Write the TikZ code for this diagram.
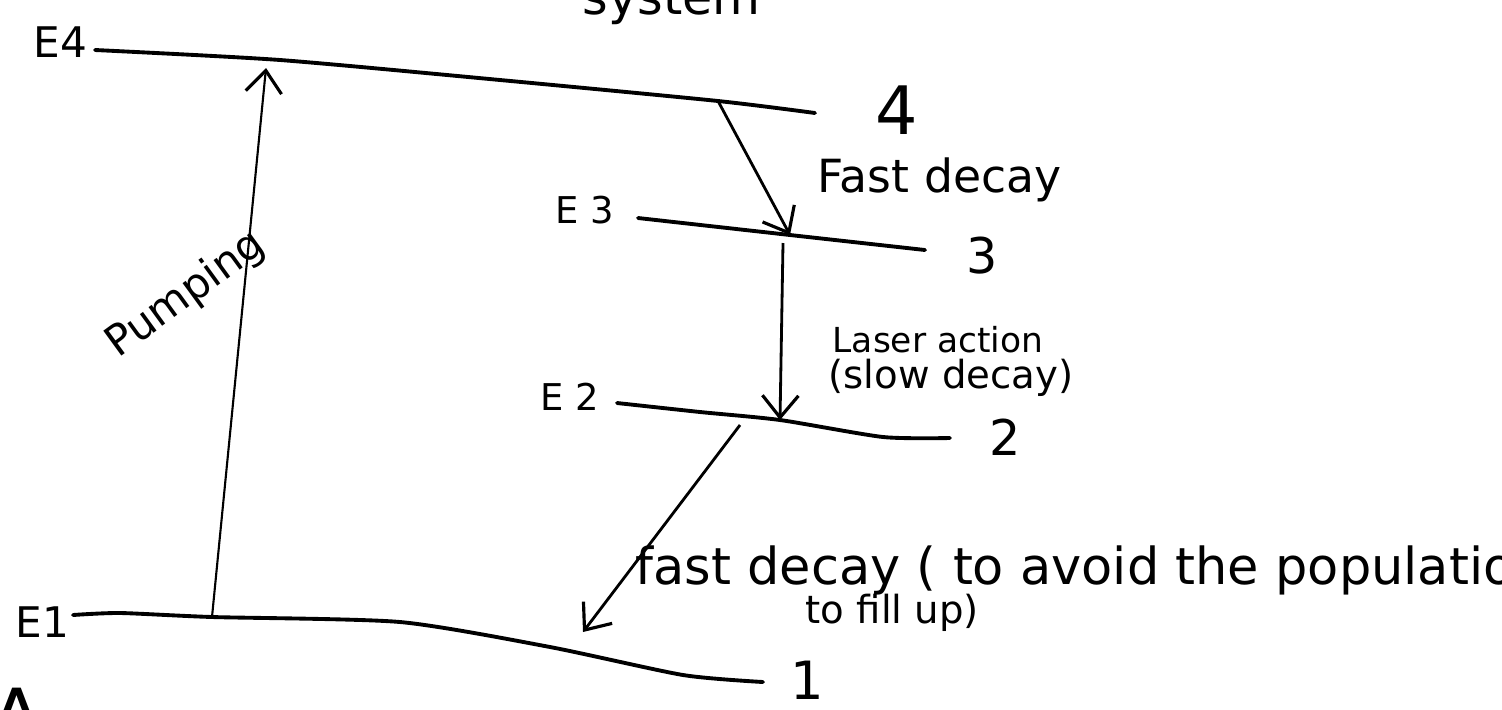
\documentclass[tikz,border=0pt]{standalone}
\usepackage{fontspec}
\setmainfont{DejaVu Sans}
\usetikzlibrary{arrows.meta}
\begin{document}
\begin{tikzpicture}[
  level/.style={line width=1.1pt, line cap=round, line join=round},
  trans/.style={line width=0.8pt, -{Straight Barb[length=2.2mm,width=3.6mm,line width=0.9pt]}},
  lbl/.style={inner sep=0pt, font=\fontsize{12}{14}\selectfont},
  num/.style={inner sep=0pt},
]
\useasboundingbox (0,0) rectangle (15.02,7.09);
\clip (0,0) rectangle (15.02,7.09);

% ---- named points on the levels
\coordinate (e4a) at (0.95,6.59);
\coordinate (e4s) at (7.18,6.08);
\coordinate (e4b) at (8.15,5.96);
\coordinate (e3a) at (6.38,4.91);
\coordinate (e3e) at (7.90,4.74);
\coordinate (e3s) at (7.83,4.66);
\coordinate (e3b) at (9.25,4.59);
\coordinate (e2a) at (6.17,3.06);
\coordinate (e2e) at (7.80,2.89);
\coordinate (e2s) at (7.40,2.84);
\coordinate (e2b) at (9.50,2.71);
\coordinate (e1a) at (0.73,0.94);
\coordinate (e1p) at (2.12,0.92);
\coordinate (e1b) at (7.63,0.27);
\coordinate (e1e) at (5.83,0.77);
\coordinate (pt) at (2.66,6.41);

% ---- levels
\draw[level] plot[smooth, tension=0.4] coordinates {(e4a) (2.8,6.49) (5.0,6.29) (e4s) (e4b)};
\draw[level] plot[smooth, tension=0.4] coordinates {(e3a) (e3e) (e3b)};
\draw[level] plot[smooth, tension=0.4] coordinates {(e2a) (7.0,2.97) (e2e) (8.83,2.72) (e2b)};
\draw[level] plot[smooth, tension=0.4] coordinates {(e1a) (1.2,0.96) (e1p) (4.0,0.87) (5.5,0.62) (6.83,0.34) (e1b)};

% ---- transitions
\draw[trans, line width=0.6pt] (e1p) -- (pt);
\draw[trans] (e4s) -- (e3e);
\draw[trans] (e3s) -- (e2e);
\draw[trans] (e2s) -- (e1e);

% ---- level names
\node[lbl, anchor=west] (lE4) at (0.33,6.67) {E4};
\node[lbl, anchor=west, font=\fontsize{10.5}{12}\selectfont] (lE3) at (5.55,4.99) {E 3};
\node[lbl, anchor=west, font=\fontsize{10.5}{12}\selectfont] (lE2) at (5.40,3.12) {E 2};
\node[lbl, anchor=west] (lE1) at (0.15,0.87) {E1};

% ---- level numbers
\node[num, font=\fontsize{19}{21}\selectfont] (n4) at (8.97,5.99) {4};
\node[num, font=\fontsize{14}{16}\selectfont] (n3) at (9.82,4.53) {3};
\node[num, font=\fontsize{14}{16}\selectfont] (n2) at (10.05,2.72) {2};
\node[num, font=\fontsize{15}{17}\selectfont] (n1) at (8.07,0.29) {1};

% ---- labels
\node[lbl, anchor=west, font=\fontsize{13}{15}\selectfont] (tfast) at (8.17,5.29) {Fast decay};
\node[lbl, anchor=west, font=\fontsize{9.8}{12}\selectfont] (tlaser) at (8.32,3.69) {Laser action};
\node[lbl, anchor=west, font=\fontsize{11}{13}\selectfont] (tslow) at (8.28,3.31) {(slow decay)};
\node[lbl, anchor=center, rotate=36] (tpump) at (1.86,4.14) {Pumping};
\node[lbl, anchor=base west, font=\fontsize{14.5}{16}\selectfont] (tfill1) at (6.35,1.25) {fast decay ( to avoid the population};
\node[lbl, anchor=base west, font=\fontsize{11}{13}\selectfont] (tfill2) at (8.05,0.86) {to fill up)};
\node[lbl, anchor=base west, font=\fontsize{14}{16}\selectfont] (tsys) at (5.82,6.95) {system};
\node[lbl, anchor=base, font=\fontsize{22}{24}\selectfont] (tA) at (0.17,-0.35) {A};
\end{tikzpicture}
\end{document}
